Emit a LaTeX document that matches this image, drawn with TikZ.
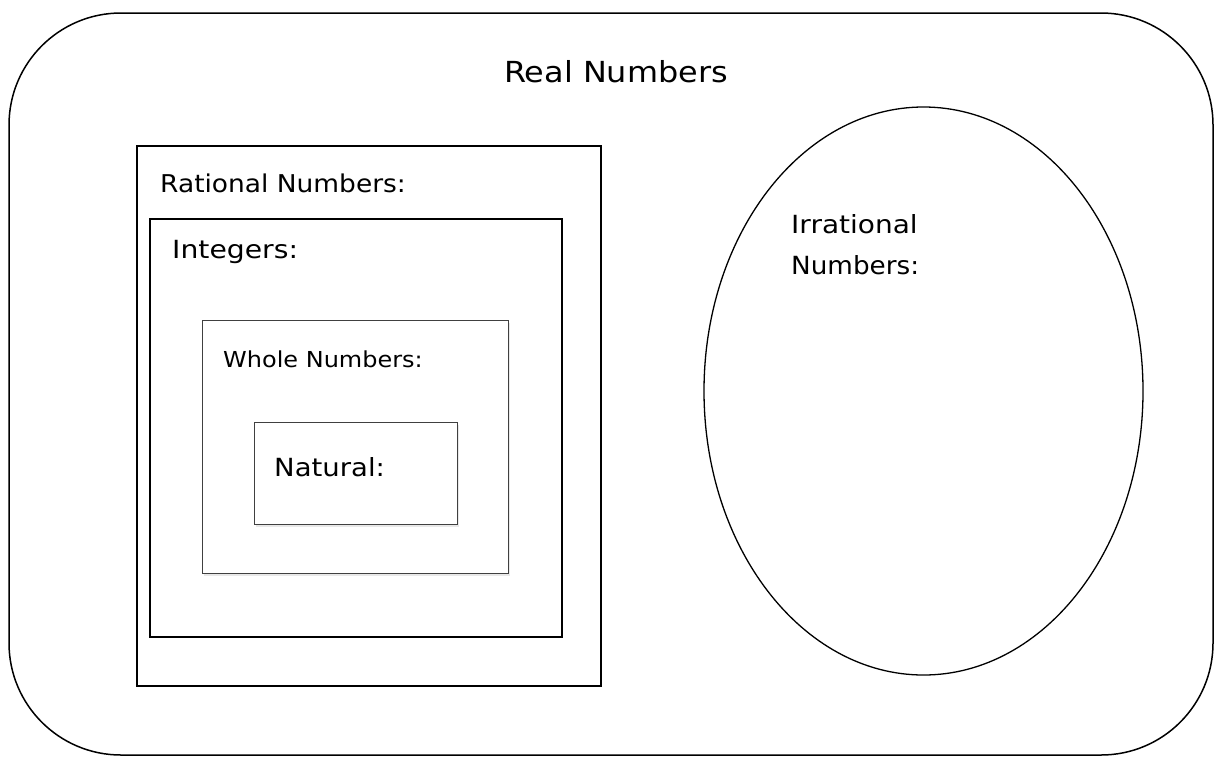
\documentclass[tikz,border=0pt]{standalone}
\usepackage{fontspec}
\setmainfont{DejaVu Sans}
\usetikzlibrary{shadows}
\newcommand{\wtxt}[3]{\scalebox{#1}[1]{\fontsize{#2}{#2}\selectfont #3}}
\begin{document}
\begin{tikzpicture}[x=1pt,y=-1pt,
  thickbox/.style={draw=black,line width=2pt},
  thinbox/.style={draw=black!75,line width=1pt,fill=white,
    drop shadow={opacity=0.18,shadow xshift=1.5pt,shadow yshift=-2.5pt}},
  lbl/.style={anchor=west,inner sep=0pt,text=black}]
\useasboundingbox (0,0) rectangle (1214,758);
% outer rounded rectangle
\draw[line width=1.5pt,rounded corners=112pt] (9,13) rectangle (1213,755);
\node[inner sep=0pt] (real) at (616,72) {\wtxt{1.1}{29}{Real Numbers}};
% rational
\draw[thickbox] (137,146) rectangle (601,686);
\node[lbl] (rat) at (160,183) {\wtxt{1.08}{24.5}{Rational Numbers:}};
% integers
\draw[thickbox] (150,219) rectangle (562,637);
\node[lbl] (int) at (172,252) {\wtxt{1.13}{25}{Integers:}};
% whole
\path[thinbox] (202,320) rectangle (508,573);
\node[lbl] (whole) at (223,359) {\wtxt{1.09}{22}{Whole Numbers:}};
% natural
\path[thinbox] (254,422) rectangle (457,524);
\node[lbl] (nat) at (274,467) {\wtxt{1.1}{25}{Natural:}};
% irrational
\draw[line width=1.3pt] (923.5,391) ellipse [x radius=219.5,y radius=284];
\node[lbl] (irr1) at (791,224) {\wtxt{1.12}{25}{Irrational}};
\node[lbl] (irr2) at (791,265) {\wtxt{1.05}{25}{Numbers:}};
\end{tikzpicture}
\end{document}
